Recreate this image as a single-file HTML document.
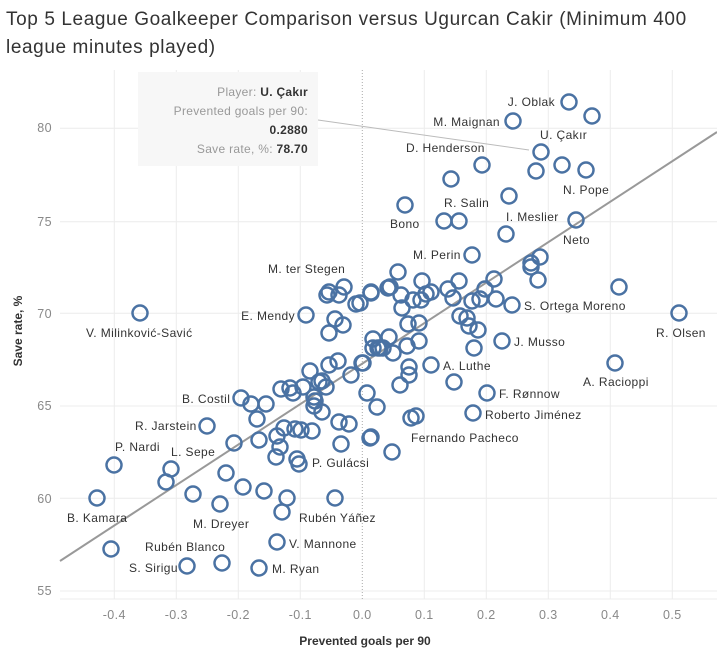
<!DOCTYPE html>
<html><head><meta charset="utf-8"><style>
body{margin:0;background:#fff;width:717px;height:656px;overflow:hidden}
svg{display:block}
text{font-family:"Liberation Sans","DejaVu Sans",sans-serif}
</style></head><body>
<svg width="717" height="656" viewBox="0 0 717 656" xmlns="http://www.w3.org/2000/svg">
<text x="6" y="25" font-size="19" fill="#333" letter-spacing="0.6">Top 5 League Goalkeeper Comparison versus Ugurcan Cakir (Minimum 400</text>
<text x="6" y="53" font-size="19" fill="#333" letter-spacing="0.6">league minutes played)</text>
<g stroke="#ececec" stroke-width="1">
<line x1="114.3" y1="70" x2="114.3" y2="599"/><line x1="176.3" y1="70" x2="176.3" y2="599"/><line x1="238.3" y1="70" x2="238.3" y2="599"/><line x1="300.3" y1="70" x2="300.3" y2="599"/>
<line x1="424.3" y1="70" x2="424.3" y2="599"/><line x1="486.3" y1="70" x2="486.3" y2="599"/><line x1="548.3" y1="70" x2="548.3" y2="599"/><line x1="610.3" y1="70" x2="610.3" y2="599"/><line x1="672.3" y1="70" x2="672.3" y2="599"/>
<line x1="60" y1="128.3" x2="717" y2="128.3"/><line x1="60" y1="221.7" x2="717" y2="221.7"/><line x1="60" y1="313.3" x2="717" y2="313.3"/><line x1="60" y1="406" x2="717" y2="406"/><line x1="60" y1="498.3" x2="717" y2="498.3"/><line x1="60" y1="591" x2="717" y2="591"/>
<line x1="60" y1="599" x2="717" y2="599"/>
</g>
<line x1="362.3" y1="70" x2="362.3" y2="599" stroke="#aaa" stroke-width="1" stroke-dasharray="1,2"/>
<g font-size="12.5" fill="#888" text-anchor="middle" letter-spacing="0.4">
<text x="114.3" y="619">-0.4</text><text x="176.3" y="619">-0.3</text><text x="238.3" y="619">-0.2</text><text x="300.3" y="619">-0.1</text><text x="362.3" y="619">0.0</text><text x="424.3" y="619">0.1</text><text x="486.3" y="619">0.2</text><text x="548.3" y="619">0.3</text><text x="610.3" y="619">0.4</text><text x="672.3" y="619">0.5</text>
</g>
<g font-size="12.5" fill="#888" text-anchor="end" letter-spacing="0.4">
<text x="52" y="132">80</text><text x="52" y="226">75</text><text x="52" y="318">70</text><text x="52" y="410">65</text><text x="52" y="503">60</text><text x="52" y="595">55</text>
</g>
<text x="365" y="645" font-size="12" fill="#333" text-anchor="middle" font-weight="bold">Prevented goals per 90</text>
<text transform="translate(22,331) rotate(-90)" font-size="12" fill="#333" text-anchor="middle" font-weight="bold">Save rate, %</text>
<line x1="60" y1="561" x2="717" y2="132" stroke="#999" stroke-width="2"/>
<g fill="none" stroke="#4a72a3" stroke-width="2.5">
<circle cx="569" cy="102" r="7.5"/><circle cx="592" cy="116" r="7.5"/><circle cx="513" cy="121" r="7.5"/><circle cx="541" cy="152" r="7.5"/><circle cx="482" cy="165" r="7.5"/><circle cx="536" cy="171" r="7.5"/><circle cx="562" cy="165" r="7.5"/><circle cx="586" cy="170" r="7.5"/><circle cx="451" cy="179" r="7.5"/><circle cx="509" cy="196" r="7.5"/><circle cx="405" cy="205" r="7.5"/><circle cx="444" cy="221" r="7.5"/><circle cx="459" cy="221" r="7.5"/><circle cx="576" cy="220" r="7.5"/><circle cx="506" cy="234" r="7.5"/><circle cx="472" cy="255" r="7.5"/><circle cx="540" cy="257" r="7.5"/><circle cx="531" cy="263" r="7.5"/><circle cx="531" cy="267" r="7.5"/><circle cx="538" cy="280" r="7.5"/><circle cx="398" cy="272" r="7.5"/><circle cx="422" cy="281" r="7.5"/><circle cx="459" cy="281" r="7.5"/><circle cx="494" cy="279" r="7.5"/><circle cx="390" cy="287" r="7.5"/><circle cx="371" cy="293" r="7.5"/><circle cx="401" cy="295" r="7.5"/><circle cx="448" cy="289" r="7.5"/><circle cx="485" cy="289" r="7.5"/><circle cx="431" cy="292" r="7.5"/><circle cx="426" cy="294" r="7.5"/><circle cx="413" cy="300" r="7.5"/><circle cx="421" cy="300" r="7.5"/><circle cx="453" cy="298" r="7.5"/><circle cx="472" cy="301" r="7.5"/><circle cx="480" cy="299" r="7.5"/><circle cx="496" cy="299" r="7.5"/><circle cx="512" cy="305" r="7.5"/><circle cx="619" cy="287" r="7.5"/><circle cx="679" cy="313" r="7.5"/><circle cx="402" cy="308" r="7.5"/><circle cx="460" cy="316" r="7.5"/><circle cx="467" cy="318" r="7.5"/><circle cx="408" cy="324" r="7.5"/><circle cx="419" cy="323" r="7.5"/><circle cx="469" cy="326" r="7.5"/><circle cx="478" cy="330" r="7.5"/><circle cx="502" cy="341" r="7.5"/><circle cx="373" cy="339" r="7.5"/><circle cx="389" cy="337" r="7.5"/><circle cx="407" cy="346" r="7.5"/><circle cx="419" cy="341" r="7.5"/><circle cx="474" cy="348" r="7.5"/><circle cx="378" cy="348" r="7.5"/><circle cx="383" cy="348" r="7.5"/><circle cx="393" cy="353" r="7.5"/><circle cx="360" cy="303" r="7.5"/>
<circle cx="615" cy="363" r="7.5"/><circle cx="431" cy="365" r="7.5"/><circle cx="409" cy="367" r="7.5"/><circle cx="409" cy="375" r="7.5"/><circle cx="454" cy="382" r="7.5"/><circle cx="400" cy="385" r="7.5"/><circle cx="487" cy="393" r="7.5"/><circle cx="367" cy="393" r="7.5"/><circle cx="377" cy="407" r="7.5"/><circle cx="473" cy="413" r="7.5"/><circle cx="411" cy="418" r="7.5"/><circle cx="416" cy="416" r="7.5"/><circle cx="371" cy="437" r="7.5"/><circle cx="392" cy="452" r="7.5"/><circle cx="363" cy="363" r="7.5"/>
<circle cx="241" cy="398" r="7.5"/><circle cx="251" cy="404" r="7.5"/><circle cx="266" cy="404" r="7.5"/><circle cx="257" cy="419" r="7.5"/><circle cx="207" cy="426" r="7.5"/><circle cx="234" cy="443" r="7.5"/><circle cx="259" cy="440" r="7.5"/><circle cx="114" cy="465" r="7.5"/><circle cx="171" cy="469" r="7.5"/><circle cx="166" cy="482" r="7.5"/><circle cx="97" cy="498" r="7.5"/><circle cx="193" cy="494" r="7.5"/><circle cx="226" cy="473" r="7.5"/><circle cx="243" cy="487" r="7.5"/><circle cx="264" cy="491" r="7.5"/><circle cx="220" cy="504" r="7.5"/><circle cx="287" cy="498" r="7.5"/><circle cx="282" cy="512" r="7.5"/><circle cx="335" cy="498" r="7.5"/><circle cx="111" cy="549" r="7.5"/><circle cx="277" cy="542" r="7.5"/><circle cx="187" cy="566" r="7.5"/><circle cx="222" cy="563" r="7.5"/><circle cx="259" cy="568" r="7.5"/><circle cx="277" cy="436" r="7.5"/><circle cx="280" cy="447" r="7.5"/><circle cx="276" cy="457" r="7.5"/><circle cx="297" cy="459" r="7.5"/><circle cx="299" cy="464" r="7.5"/><circle cx="284" cy="428" r="7.5"/><circle cx="295" cy="429" r="7.5"/><circle cx="301" cy="430" r="7.5"/><circle cx="312" cy="431" r="7.5"/><circle cx="339" cy="422" r="7.5"/><circle cx="349" cy="424" r="7.5"/><circle cx="341" cy="444" r="7.5"/><circle cx="370" cy="438" r="7.5"/><circle cx="281" cy="389" r="7.5"/><circle cx="290" cy="388" r="7.5"/><circle cx="293" cy="393" r="7.5"/><circle cx="303" cy="387" r="7.5"/><circle cx="310" cy="371" r="7.5"/><circle cx="319" cy="382" r="7.5"/><circle cx="322" cy="381" r="7.5"/><circle cx="326" cy="387" r="7.5"/><circle cx="314" cy="397" r="7.5"/><circle cx="315" cy="401" r="7.5"/><circle cx="314" cy="406" r="7.5"/><circle cx="322" cy="412" r="7.5"/><circle cx="329" cy="365" r="7.5"/><circle cx="338" cy="361" r="7.5"/><circle cx="351" cy="375" r="7.5"/><circle cx="362" cy="363" r="7.5"/><circle cx="373" cy="348" r="7.5"/><circle cx="380" cy="348" r="7.5"/>
<circle cx="140" cy="313" r="7.5"/><circle cx="306" cy="315" r="7.5"/><circle cx="327" cy="295" r="7.5"/><circle cx="329" cy="292" r="7.5"/><circle cx="339" cy="295" r="7.5"/><circle cx="344" cy="287" r="7.5"/><circle cx="356" cy="304" r="7.5"/><circle cx="371" cy="292" r="7.5"/><circle cx="388" cy="288" r="7.5"/><circle cx="335" cy="319" r="7.5"/><circle cx="343" cy="325" r="7.5"/><circle cx="329" cy="333" r="7.5"/>
</g>
<g font-size="12" fill="#333" letter-spacing="0.4">
<text x="555" y="106" text-anchor="end">J. Oblak</text>
<text x="500" y="126" text-anchor="end">M. Maignan</text>
<text x="540" y="139">U. Çakır</text>
<text x="406" y="152">D. Henderson</text>
<text x="563" y="194">N. Pope</text>
<text x="444" y="207">R. Salin</text>
<text x="506" y="221">I. Meslier</text>
<text x="390" y="228">Bono</text>
<text x="563" y="244">Neto</text>
<text x="413" y="259">M. Perin</text>
<text x="268" y="273">M. ter Stegen</text>
<text x="295" y="320" text-anchor="end">E. Mendy</text>
<text x="86" y="337">V. Milinković-Savić</text>
<text x="524" y="310">S. Ortega Moreno</text>
<text x="656" y="337">R. Olsen</text>
<text x="514" y="346">J. Musso</text>
<text x="443" y="370">A. Luthe</text>
<text x="583" y="386">A. Racioppi</text>
<text x="182" y="403">B. Costil</text>
<text x="499" y="398">F. Rønnow</text>
<text x="485" y="419">Roberto Jiménez</text>
<text x="135" y="430">R. Jarstein</text>
<text x="411" y="442">Fernando Pacheco</text>
<text x="115" y="451">P. Nardi</text>
<text x="171" y="456">L. Sepe</text>
<text x="312" y="467">P. Gulácsi</text>
<text x="67" y="522">B. Kamara</text>
<text x="299" y="522">Rubén Yáñez</text>
<text x="193" y="528">M. Dreyer</text>
<text x="289" y="548">V. Mannone</text>
<text x="145" y="551">Rubén Blanco</text>
<text x="129" y="572">S. Sirigu</text>
<text x="272" y="573">M. Ryan</text>
</g>
<line x1="318" y1="120" x2="529" y2="150" stroke="#bbb" stroke-width="1"/>
<rect x="138" y="72" width="180" height="94" fill="#f7f7f7"/>
<g font-size="12" text-anchor="end" letter-spacing="0.3">
<text x="308" y="96" fill="#999">Player: <tspan fill="#333" font-weight="bold">U. Çakır</tspan></text>
<text x="308" y="115" fill="#999">Prevented goals per 90:</text>
<text x="308" y="134" fill="#333" font-weight="bold">0.2880</text>
<text x="308" y="153" fill="#999">Save rate, %: <tspan fill="#333" font-weight="bold">78.70</tspan></text>
</g>
</svg>
</body></html>
